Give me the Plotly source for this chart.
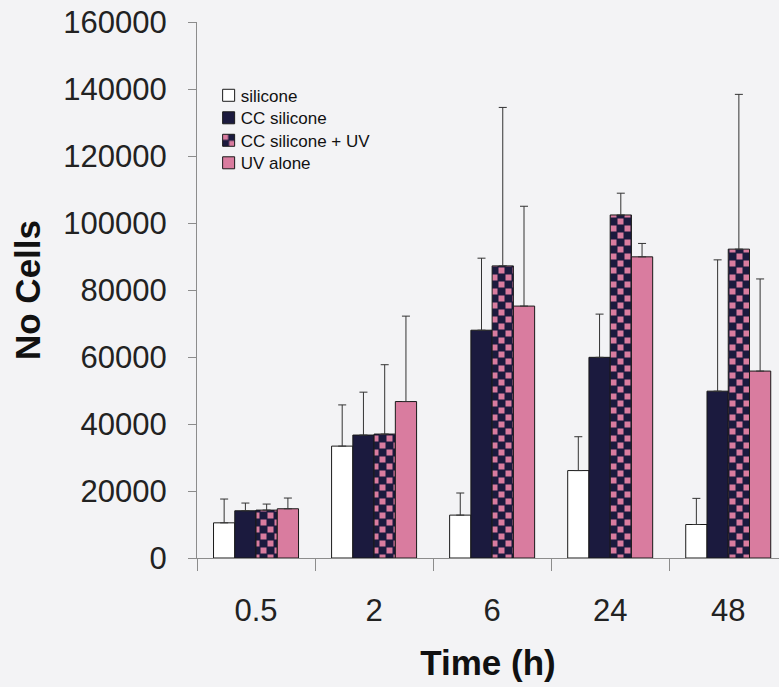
import plotly.graph_objects as go

# ---- data ----
times = ["0.5", "2", "6", "24", "48"]
series_names = ["silicone", "CC silicone", "CC silicone + UV", "UV alone"]

silicone = [10500, 33400, 12800, 26100, 10000]
silicone_sd = [7100, 12300, 6600, 10100, 7800]

cc_silicone = [14100, 36700, 68000, 59900, 49800]
cc_silicone_sd = [2300, 12800, 21500, 12900, 39200]

cc_silicone_uv = [14300, 37000, 87200, 102400, 92200]
cc_silicone_uv_sd = [1800, 20700, 47300, 6500, 46200]

uv_alone = [14700, 46700, 75200, 89900, 55800]
uv_alone_sd = [3200, 25500, 29800, 4000, 27500]

y_tick_values = [0, 20000, 40000, 60000, 80000, 100000, 120000, 140000, 160000]
y_tick_labels = ["0", "20000", "40000", "60000", "80000", "100000", "120000", "140000", "160000"]

# ---- styles ----
FONT = "Liberation Sans, Arial, Helvetica, sans-serif"
BG = "#f3f3f5"
NAVY = "#1b1a3e"
PINK = "#d97c9f"
EDGE = "#1a1a1a"
AXIS = "#8c8c8c"

values = [silicone, cc_silicone, cc_silicone_uv, uv_alone]
sds = [silicone_sd, cc_silicone_sd, cc_silicone_uv_sd, uv_alone_sd]
fills = ["#ffffff", NAVY, NAVY, PINK]

fig = go.Figure()
for i, (name, v, sd, fc) in enumerate(zip(series_names, values, sds, fills)):
    marker = dict(color=fc, line=dict(color=EDGE, width=1))
    if i == 2:
        marker["pattern"] = dict(shape="+", fgcolor=PINK, bgcolor=NAVY,
                                 size=7, solidity=0.4, fillmode="replace")
    fig.add_trace(go.Bar(
        name=name, x=times, y=v, marker=marker,
        error_y=dict(type="data", symmetric=False, array=sd,
                     arrayminus=[0] * len(sd), color="#333333",
                     thickness=1, width=4),
    ))

fig.update_layout(
    width=779, height=687,
    margin=dict(l=197, r=0, t=22, b=129),
    paper_bgcolor=BG, plot_bgcolor=BG,
    barmode="group", bargap=0.28, bargroupgap=0,
    font=dict(family=FONT, color="#222222"),
    showlegend=True,
    legend=dict(x=0.02, y=0.896, xanchor="left", yanchor="top",
                bgcolor="rgba(0,0,0,0)", font=dict(size=17, color="#111111"),
                traceorder="normal"),
    xaxis=dict(
        type="category", range=[-0.5, 4.43],
        showline=True, linecolor=AXIS, linewidth=1,
        ticks="outside", tickson="boundaries", ticklen=12, tickcolor=AXIS,
        tickfont=dict(size=31, color="#222222"), ticklabelstandoff=25,
        showgrid=False, zeroline=False,
        title=dict(text="Time (h)", font=dict(size=35, color="#111111", weight="bold"),
                   standoff=23),
    ),
    yaxis=dict(
        range=[0, 160000], tickvals=y_tick_values, ticktext=y_tick_labels,
        showline=True, linecolor=AXIS, linewidth=1,
        ticks="outside", ticklen=8, tickcolor=AXIS,
        tickfont=dict(size=31, color="#222222"), ticklabelstandoff=15,
        showgrid=False, zeroline=False,
        title=dict(text="No Cells", font=dict(size=35, color="#111111", weight="bold"),
                   standoff=12),
    ),
)

post_js = """
document.body.style.margin = '0';
document.body.style.background = '""" + BG + """';
var gd = document.getElementById('{plot_id}');
var ns = 'http://www.w3.org/2000/svg';
var svg = gd.querySelector('svg.main-svg');
var defs = svg.querySelector('defs');
var pat = document.createElementNS(ns, 'pattern');
pat.setAttribute('id', 'checkerfill');
pat.setAttribute('patternUnits', 'userSpaceOnUse');
pat.setAttribute('width', '14');
pat.setAttribute('height', '14');
var bg = document.createElementNS(ns, 'rect');
bg.setAttribute('x', '0'); bg.setAttribute('y', '0');
bg.setAttribute('width', '14'); bg.setAttribute('height', '14');
bg.setAttribute('fill', '""" + NAVY + """');
pat.appendChild(bg);
[[0.5,0.5],[7.5,7.5]].forEach(function(p){
  var r = document.createElementNS(ns, 'rect');
  r.setAttribute('x', p[0]); r.setAttribute('y', p[1]);
  r.setAttribute('width', '6'); r.setAttribute('height', '6');
  r.setAttribute('fill', '""" + PINK + """');
  pat.appendChild(r);
});
defs.appendChild(pat);
var tr = gd.querySelectorAll('.barlayer .trace')[2];
if (tr) { tr.querySelectorAll('.point path').forEach(function(p){ p.style.fill = 'url(#checkerfill)'; }); }
var items = gd.querySelectorAll('.legend .traces');
var y0 = null;
items.forEach(function(g, i){
  var t = g.getAttribute('transform') || '';
  var m = /translate\\(([-\\d.e]+)[ ,]+([-\\d.e]+)\\)/.exec(t);
  if (m) {
    if (y0 === null) { y0 = parseFloat(m[2]); }
    g.setAttribute('transform', 'translate(' + m[1] + ',' + (y0 + i * 22.5) + ')');
  }
  var tx = g.querySelector('text.legendtext');
  if (tx) { tx.setAttribute('x', 32); }
  if (i === 2) {
    g.querySelectorAll('.legendpoints path').forEach(function(p){ p.style.fill = 'url(#checkerfill)'; });
  }
});
"""

fig.write_html("out.html", post_script=post_js, config={"displayModeBar": False})
